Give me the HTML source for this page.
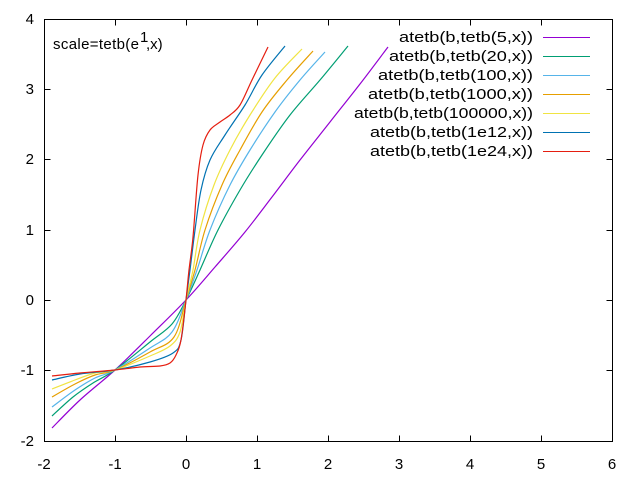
<!DOCTYPE html>
<html><head><style>body{margin:0;background:#fff}svg{display:block}text{font-family:"Liberation Sans","DejaVu Sans",sans-serif;font-size:15px;fill:#000}</style></head>
<body>
<svg id="s" width="640" height="480" viewBox="0 0 640 480" xmlns="http://www.w3.org/2000/svg">
<g stroke="#000" stroke-width="1" fill="none">
<rect x="44.5" y="19.5" width="568" height="422"/>
<path d="M44.5 441.5h6M612.5 441.5h-6M44.5 370.5h6M612.5 370.5h-6M44.5 300.5h6M612.5 300.5h-6M44.5 230.5h6M612.5 230.5h-6M44.5 159.5h6M612.5 159.5h-6M44.5 89.5h6M612.5 89.5h-6M44.5 19.5h6M612.5 19.5h-6"/>
<path d="M115.5 441.5v-6M115.5 19.5v6M186.5 441.5v-6M186.5 19.5v6M257.5 441.5v-6M257.5 19.5v6M328.5 441.5v-6M328.5 19.5v6M399.5 441.5v-6M399.5 19.5v6M470.5 441.5v-6M470.5 19.5v6M541.5 441.5v-6M541.5 19.5v6"/>
</g>
<g text-anchor="end">
<text x="34" y="446">-2</text><text x="34" y="375">-1</text><text x="34" y="305">0</text><text x="34" y="235">1</text><text x="34" y="164">2</text><text x="34" y="94">3</text><text x="34" y="24">4</text>
</g>
<g text-anchor="middle">
<text x="44" y="469">-2</text><text x="115" y="469">-1</text><text x="186" y="469">0</text><text x="257" y="469">1</text><text x="328" y="469">2</text><text x="399" y="469">3</text><text x="470" y="469">4</text><text x="541" y="469">5</text><text x="612" y="469">6</text>
</g>
<text x="53" y="49" font-size="16" textLength="86" lengthAdjust="spacing">scale=tetb(e</text>
<text x="140" y="42" font-size="12">1</text>
<text x="146" y="49" font-size="18">,x)</text>
<g text-anchor="end" font-size="16">
<text x="533" y="42" textLength="134" lengthAdjust="spacingAndGlyphs">atetb(b,tetb(5,x))</text>
<text x="533" y="61" textLength="144" lengthAdjust="spacingAndGlyphs">atetb(b,tetb(20,x))</text>
<text x="533" y="80" textLength="155" lengthAdjust="spacingAndGlyphs">atetb(b,tetb(100,x))</text>
<text x="533" y="99" textLength="165" lengthAdjust="spacingAndGlyphs">atetb(b,tetb(1000,x))</text>
<text x="533" y="118" textLength="179" lengthAdjust="spacingAndGlyphs">atetb(b,tetb(100000,x))</text>
<text x="533" y="137" textLength="163" lengthAdjust="spacingAndGlyphs">atetb(b,tetb(1e12,x))</text>
<text x="533" y="156" textLength="163" lengthAdjust="spacingAndGlyphs">atetb(b,tetb(1e24,x))</text>
</g>
<g stroke-width="1">
<path d="M543 37.5h47" stroke="#9400d3"/>
<path d="M543 56.5h47" stroke="#009e73"/>
<path d="M543 75.5h47" stroke="#56b4e9"/>
<path d="M543 94.5h47" stroke="#e69f00"/>
<path d="M543 113.5h47" stroke="#f0e442"/>
<path d="M543 132.5h47" stroke="#0072b2"/>
<path d="M543 151.5h47" stroke="#e51e10"/>
</g>
<g id="c" fill="none" stroke-width="1.2" stroke-linejoin="round"></g>
</svg>
<script>
var D=[
["#9400d3","52,428 80,400 115,370 150,336 186,300 215,267 245,232 272,197 300,160 330,122 360,84 388,47"],
["#009e73","52,416 73,397 93,383 115,370 150,342 172,324 186,300 200,270 218,230 240,190 262,155 290,115 320,80 348,46"],
["#56b4e9","52,407 75,390 95,378 115,370 150,348 172,332 186,300 197,270 210,230 230,185 250,150 275,112 300,80 325,52"],
["#e69f00","52,397 75,384 95,375 115,370 150,352 174,337 186,300 195,270 205,230 222,185 240,150 262,112 287,80 313,51"],
["#f0e442","52,389 75,380 95,373 115,370 150,356 170,346 180,332 186,300 193,270 200,230 214,185 230,150 250,115 275,78 302,49"],
["#0072b2","52,380 80,374 115,370 150,362 173,353 181,340 186,300 190,270 195,230 201,190 210,160 225,135 245,105 262,75 285,46"],
["#e51e10","52,376 80,373 115,370 140,367 160,366 170,363 176,355 181,340 186,300 189,270 193,237 198,175 203,145 210,130 220,122 230,115 240,105 252,80 268,47"]];
var g=document.getElementById("c"),h="";
D.forEach(function(d){var p=d[1].split(" ").map(function(s){return s.split(",").map(Number)});
var s="M"+p[0][0]+" "+p[0][1];
for(var i=0;i<p.length-1;i++){var a=p[i-1]||p[i],b=p[i],c=p[i+1],e=p[i+2]||c;
s+=" C"+(b[0]+(c[0]-a[0])/6).toFixed(1)+" "+(b[1]+(c[1]-a[1])/6).toFixed(1)+" "+(c[0]-(e[0]-b[0])/6).toFixed(1)+" "+(c[1]-(e[1]-b[1])/6).toFixed(1)+" "+c[0]+" "+c[1];}
h+='<path stroke="'+d[0]+'" d="'+s+'"/>';});
g.innerHTML=h;
</script>
</body></html>
